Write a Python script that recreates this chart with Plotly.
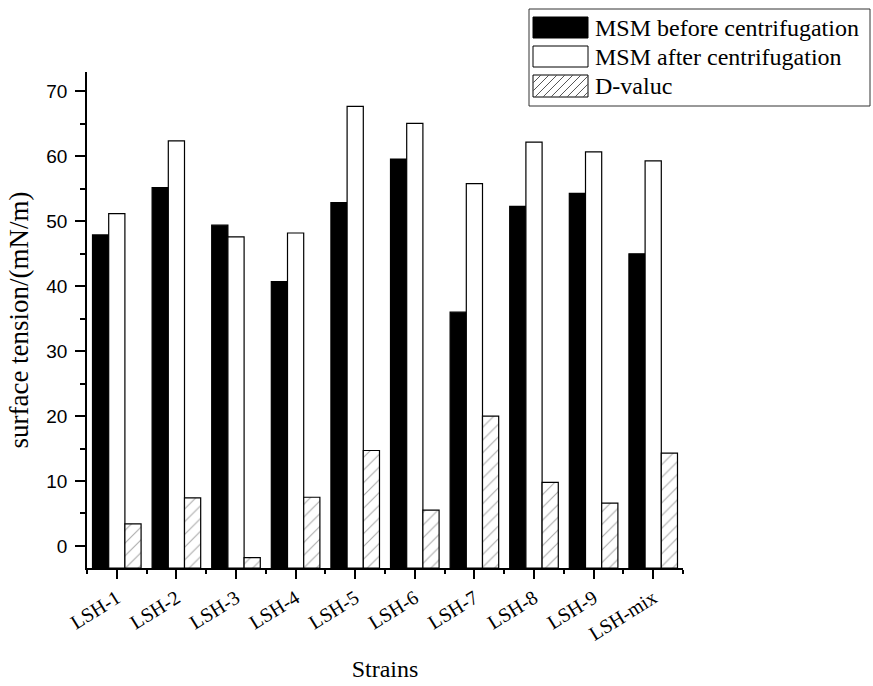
import plotly.graph_objects as go

categories = ["LSH-1", "LSH-2", "LSH-3", "LSH-4", "LSH-5", "LSH-6", "LSH-7", "LSH-8", "LSH-9", "LSH-mix"]
before = [47.9, 55.2, 49.4, 40.7, 52.9, 59.6, 36.0, 52.3, 54.3, 45.0]
after = [51.2, 62.4, 47.6, 48.2, 67.7, 65.1, 55.8, 62.2, 60.7, 59.3]
dvalue = [3.4, 7.4, -1.8, 7.5, 14.7, 5.5, 20.0, 9.8, 6.6, 14.3]
series_names = ["MSM before centrifugation", "MSM after centrifugation", "D-valuc"]
y_ticks = [0, 10, 20, 30, 40, 50, 60, 70]

YMIN, YMAX = -3.4, 73.0
xs = list(range(len(categories)))

# Figure geometry (pixels)
FW, FH = 873, 686
L, R, T, B = 87, 683, 72, 568
W, H = R - L, B - T

def px(x):
    return (x - L) / W

def py(y):
    return (B - y) / H

fig = go.Figure()
line = dict(color="black", width=1.2)
fig.add_trace(go.Bar(x=xs, y=[v - YMIN for v in before], base=YMIN, name=series_names[0],
                     marker=dict(color="black", line=line), showlegend=False))
fig.add_trace(go.Bar(x=xs, y=[v - YMIN for v in after], base=YMIN, name=series_names[1],
                     marker=dict(color="white", line=line), showlegend=False))
fig.add_trace(go.Bar(x=xs, y=[v - YMIN for v in dvalue], base=YMIN, name=series_names[2],
                     marker=dict(color="white", line=line,
                                 pattern=dict(shape="/", fgcolor="#555555", bgcolor="white",
                                              size=9, solidity=0.12)),
                     showlegend=False))

serif = "Liberation Serif, Times New Roman, serif"
sans = "Liberation Sans, Arial, sans-serif"

fig.update_layout(
    width=FW, height=FH,
    margin=dict(l=L, r=FW - R, t=T, b=FH - B),
    paper_bgcolor="white", plot_bgcolor="white",
    barmode="group", bargap=0.185, bargroupgap=0,
    xaxis=dict(range=[-0.5, len(categories) - 0.5], tickvals=xs, ticktext=categories,
               tickangle=-32, showline=True, linecolor="black", linewidth=1.5,
               ticks="outside", ticklen=9, tickwidth=1.5, tickcolor="black",
               minor=dict(tick0=0.5, dtick=1, ticks="outside", ticklen=4, tickwidth=1.5, tickcolor="black"),
               showgrid=False, zeroline=False, automargin=False,
               tickfont=dict(family=serif, size=20, color="black"),
               title=dict(text="Strains", font=dict(family=serif, size=24, color="black"), standoff=17)),
    yaxis=dict(range=[YMIN, YMAX], tickvals=y_ticks, showline=True, linecolor="black", linewidth=1.5,
               ticks="outside", ticklen=10, tickwidth=1.5, tickcolor="black",
               minor=dict(dtick=5, tick0=0, ticks="outside", ticklen=5, tickwidth=1.5, tickcolor="black"),
               showgrid=False, zeroline=False, automargin=False, ticklabelstandoff=4,
               tickfont=dict(family=sans, size=19, color="black"),
               title=dict(text="surface tension/(mN/m)", font=dict(family=serif, size=27, color="black"), standoff=10)),
)

# Custom legend (large swatches like the original)
shapes = []
shapes.append(dict(type="rect", xref="paper", yref="paper", x0=px(529), x1=px(870), y0=py(106), y1=py(9),
                   line=dict(color="#333333", width=1), fillcolor="white", layer="above"))
sw = [(17, 38, "black"), (46, 67, "white"), (75, 97, "hatch")]
sx0, sx1 = 533, 588
for (y0, y1, kind), name in zip(sw, series_names):
    fill = "black" if kind == "black" else "white"
    shapes.append(dict(type="rect", xref="paper", yref="paper", x0=px(sx0), x1=px(sx1), y0=py(y1), y1=py(y0),
                       line=dict(color="black", width=1), fillcolor=fill, layer="above"))
    if kind == "hatch":
        hgt = y1 - y0
        step = 8
        segs = []
        k = sx0 - hgt
        while k < sx1:
            xa, ya = k, y1
            xb, yb = k + hgt, y0
            if xa < sx0:
                ya = y1 - (sx0 - xa)
                xa = sx0
            if xb > sx1:
                yb = y0 + (xb - sx1)
                xb = sx1
            if xb > xa:
                segs.append(f"M {px(xa):.5f} {py(ya):.5f} L {px(xb):.5f} {py(yb):.5f}")
            k += step
        shapes.append(dict(type="path", xref="paper", yref="paper", path=" ".join(segs),
                           line=dict(color="#555555", width=1), layer="above"))
    fig.add_annotation(xref="paper", yref="paper", x=px(593), y=py((y0 + y1) / 2), text=name,
                       showarrow=False, xanchor="left", yanchor="middle",
                       font=dict(family=serif, size=24, color="black"))
fig.update_layout(shapes=shapes)

fig.write_html("out.html")
